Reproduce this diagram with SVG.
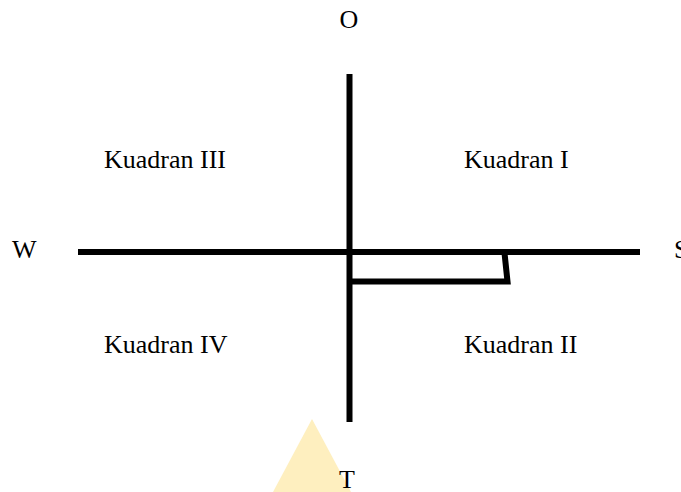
<svg xmlns="http://www.w3.org/2000/svg" width="681" height="492" viewBox="0 0 681 492">
<style>
.ax{stroke:#000;stroke-width:6;fill:none}
.t{font-family:"Liberation Serif","Times New Roman",serif;font-size:26px;fill:#000}
</style>
<rect width="681" height="492" fill="#fff"/>
<g id="connectors">
<line class="ax" x1="349.5" y1="74" x2="349.5" y2="422"/>
<line class="ax" x1="78" y1="252" x2="640" y2="252"/>
<polyline class="ax" points="349.5,281.5 507.5,281.5 504.5,253" stroke-linejoin="miter"/>
</g>
<g id="marker">
<polygon points="312,419 273,492 351,492" fill="#FEEFBF"/>
</g>
<g id="labels">
<text class="t" x="349" y="28" text-anchor="middle">O</text>
<text class="t" x="12" y="258">W</text>
<text class="t" x="674" y="258">S</text>
<text class="t" x="347" y="488" text-anchor="middle">T</text>
<text class="t" x="104" y="168">Kuadran III</text>
<text class="t" x="464" y="168">Kuadran I</text>
<text class="t" x="104" y="353">Kuadran IV</text>
<text class="t" x="464" y="353">Kuadran II</text>
</g>
</svg>
